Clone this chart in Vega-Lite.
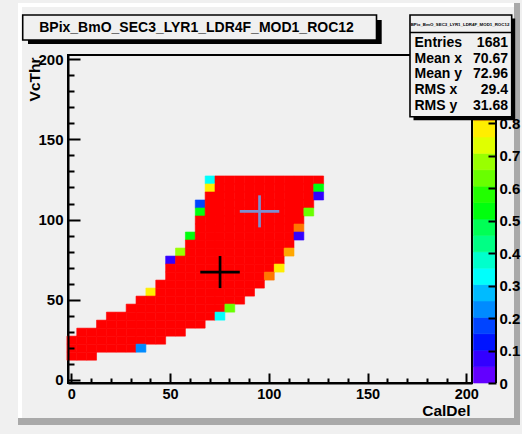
{
  "$schema": "https://vega.github.io/schema/vega-lite/v6.json",
  "width": 404,
  "height": 328,
  "autosize": {"type": "none"},
  "padding": {"left": 68, "top": 55, "right": 50, "bottom": 51},
  "background": "#f0f0f0",
  "config": {
    "font": "Liberation Sans",
    "view": {"stroke": "black", "strokeWidth": 2, "fill": "#f0f0f0"},
    "axis": {
      "labelFont": "Liberation Sans", "labelFontWeight": "bold", "labelFontSize": 15, "labelColor": "black",
      "titleFont": "Liberation Sans", "titleFontWeight": "bold", "titleFontSize": 15.5, "titleColor": "black",
      "tickColor": "black", "domainColor": "black", "grid": false, "labelFlush": false, "labelOverlap": false
    },
    "text": {"font": "Liberation Sans", "fontWeight": "bold", "color": "black"}
  },
  "resolve": {"scale": {"y": "independent"}, "axis": {"x": "independent", "y": "independent"}},
  "layer": [
    {
      "data": {"values": [{}]},
      "mark": {"type": "rect", "color": "#a9a9a9"},
      "encoding": {
        "x": {"datum": 224.17, "type": "quantitative", "axis": null},
        "x2": {"datum": 227.21},
        "y": {"datum": -28.27, "type": "quantitative", "axis": null, "scale": {"domain": [-2.05, 202.7], "nice": false, "zero": false}},
        "y2": {"datum": 235.16}
      }
    },
    {
      "data": {"values": [{}]},
      "mark": {"type": "rect", "color": "#a9a9a9"},
      "encoding": {
        "x": {"datum": -27.02, "type": "quantitative", "axis": null},
        "x2": {"datum": 227.21},
        "y": {"datum": -28.27, "type": "quantitative", "axis": null, "scale": {"domain": [-2.05, 202.7], "nice": false, "zero": false}},
        "y2": {"datum": -23.9}
      }
    },
    {
      "data": {"values": [{}]},
      "mark": {"type": "rect", "color": "#ffffff"},
      "encoding": {
        "x": {"datum": -27.02, "type": "quantitative", "axis": null},
        "x2": {"datum": -25.0},
        "y": {"datum": -23.9, "type": "quantitative", "axis": null, "scale": {"domain": [-2.05, 202.7], "nice": false, "zero": false}},
        "y2": {"datum": 235.16}
      }
    },
    {
      "data": {"values": [{}]},
      "mark": {"type": "rect", "color": "#ffffff"},
      "encoding": {
        "x": {"datum": -27.02, "type": "quantitative", "axis": null},
        "x2": {"datum": 224.17},
        "y": {"datum": 232.66, "type": "quantitative", "axis": null, "scale": {"domain": [-2.05, 202.7], "nice": false, "zero": false}},
        "y2": {"datum": 235.16}
      }
    },
    {
      "data": {"values": [
        {"x":70,"y":125,"z":0.33},{"x":75,"y":125,"z":1},{"x":80,"y":125,"z":1},{"x":85,"y":125,"z":1},{"x":90,"y":125,"z":1},{"x":95,"y":125,"z":1},{"x":100,"y":125,"z":1},{"x":105,"y":125,"z":1},{"x":110,"y":125,"z":1},{"x":115,"y":125,"z":1},{"x":120,"y":125,"z":1},{"x":125,"y":125,"z":1},
        {"x":70,"y":120,"z":0.78},{"x":75,"y":120,"z":1},{"x":80,"y":120,"z":1},{"x":85,"y":120,"z":1},{"x":90,"y":120,"z":1},{"x":95,"y":120,"z":1},{"x":100,"y":120,"z":1},{"x":105,"y":120,"z":1},{"x":110,"y":120,"z":1},{"x":115,"y":120,"z":1},{"x":120,"y":120,"z":1},{"x":125,"y":120,"z":0.53},
        {"x":70,"y":115,"z":1},{"x":75,"y":115,"z":1},{"x":80,"y":115,"z":1},{"x":85,"y":115,"z":1},{"x":90,"y":115,"z":1},{"x":95,"y":115,"z":1},{"x":100,"y":115,"z":1},{"x":105,"y":115,"z":1},{"x":110,"y":115,"z":1},{"x":115,"y":115,"z":1},{"x":120,"y":115,"z":1},{"x":125,"y":115,"z":0.08},
        {"x":65,"y":110,"z":0.18},{"x":70,"y":110,"z":1},{"x":75,"y":110,"z":1},{"x":80,"y":110,"z":1},{"x":85,"y":110,"z":1},{"x":90,"y":110,"z":1},{"x":95,"y":110,"z":1},{"x":100,"y":110,"z":1},{"x":105,"y":110,"z":1},{"x":110,"y":110,"z":1},{"x":115,"y":110,"z":1},{"x":120,"y":110,"z":1},
        {"x":65,"y":105,"z":0.53},{"x":70,"y":105,"z":1},{"x":75,"y":105,"z":1},{"x":80,"y":105,"z":1},{"x":85,"y":105,"z":1},{"x":90,"y":105,"z":1},{"x":95,"y":105,"z":1},{"x":100,"y":105,"z":1},{"x":105,"y":105,"z":1},{"x":110,"y":105,"z":1},{"x":115,"y":105,"z":1},{"x":120,"y":105,"z":0.63},
        {"x":65,"y":100,"z":1},{"x":70,"y":100,"z":1},{"x":75,"y":100,"z":1},{"x":80,"y":100,"z":1},{"x":85,"y":100,"z":1},{"x":90,"y":100,"z":1},{"x":95,"y":100,"z":1},{"x":100,"y":100,"z":1},{"x":105,"y":100,"z":1},{"x":110,"y":100,"z":1},{"x":115,"y":100,"z":1},
        {"x":65,"y":95,"z":1},{"x":70,"y":95,"z":1},{"x":75,"y":95,"z":1},{"x":80,"y":95,"z":1},{"x":85,"y":95,"z":1},{"x":90,"y":95,"z":1},{"x":95,"y":95,"z":1},{"x":100,"y":95,"z":1},{"x":105,"y":95,"z":1},{"x":110,"y":95,"z":1},{"x":115,"y":95,"z":0.88},
        {"x":60,"y":90,"z":0.53},{"x":65,"y":90,"z":1},{"x":70,"y":90,"z":1},{"x":75,"y":90,"z":1},{"x":80,"y":90,"z":1},{"x":85,"y":90,"z":1},{"x":90,"y":90,"z":1},{"x":95,"y":90,"z":1},{"x":100,"y":90,"z":1},{"x":105,"y":90,"z":1},{"x":110,"y":90,"z":1},{"x":115,"y":90,"z":0.08},
        {"x":60,"y":85,"z":1},{"x":65,"y":85,"z":1},{"x":70,"y":85,"z":1},{"x":75,"y":85,"z":1},{"x":80,"y":85,"z":1},{"x":85,"y":85,"z":1},{"x":90,"y":85,"z":1},{"x":95,"y":85,"z":1},{"x":100,"y":85,"z":1},{"x":105,"y":85,"z":1},{"x":110,"y":85,"z":1},
        {"x":55,"y":80,"z":0.68},{"x":60,"y":80,"z":1},{"x":65,"y":80,"z":1},{"x":70,"y":80,"z":1},{"x":75,"y":80,"z":1},{"x":80,"y":80,"z":1},{"x":85,"y":80,"z":1},{"x":90,"y":80,"z":1},{"x":95,"y":80,"z":1},{"x":100,"y":80,"z":1},{"x":105,"y":80,"z":1},{"x":110,"y":80,"z":0.83},
        {"x":50,"y":75,"z":0.08},{"x":55,"y":75,"z":1},{"x":60,"y":75,"z":1},{"x":65,"y":75,"z":1},{"x":70,"y":75,"z":1},{"x":75,"y":75,"z":1},{"x":80,"y":75,"z":1},{"x":85,"y":75,"z":1},{"x":90,"y":75,"z":1},{"x":95,"y":75,"z":1},{"x":100,"y":75,"z":1},{"x":105,"y":75,"z":1},
        {"x":50,"y":70,"z":1},{"x":55,"y":70,"z":1},{"x":60,"y":70,"z":1},{"x":65,"y":70,"z":1},{"x":70,"y":70,"z":1},{"x":75,"y":70,"z":1},{"x":80,"y":70,"z":1},{"x":85,"y":70,"z":1},{"x":90,"y":70,"z":1},{"x":95,"y":70,"z":1},{"x":100,"y":70,"z":1},{"x":105,"y":70,"z":0.78},
        {"x":50,"y":65,"z":1},{"x":55,"y":65,"z":1},{"x":60,"y":65,"z":1},{"x":65,"y":65,"z":1},{"x":70,"y":65,"z":1},{"x":75,"y":65,"z":1},{"x":80,"y":65,"z":1},{"x":85,"y":65,"z":1},{"x":90,"y":65,"z":1},{"x":95,"y":65,"z":1},{"x":100,"y":65,"z":0.88},
        {"x":45,"y":60,"z":1},{"x":50,"y":60,"z":1},{"x":55,"y":60,"z":1},{"x":60,"y":60,"z":1},{"x":65,"y":60,"z":1},{"x":70,"y":60,"z":1},{"x":75,"y":60,"z":1},{"x":80,"y":60,"z":1},{"x":85,"y":60,"z":1},{"x":90,"y":60,"z":1},{"x":95,"y":60,"z":1},
        {"x":40,"y":55,"z":0.78},{"x":45,"y":55,"z":1},{"x":50,"y":55,"z":1},{"x":55,"y":55,"z":1},{"x":60,"y":55,"z":1},{"x":65,"y":55,"z":1},{"x":70,"y":55,"z":1},{"x":75,"y":55,"z":1},{"x":80,"y":55,"z":1},{"x":85,"y":55,"z":1},{"x":90,"y":55,"z":1},
        {"x":35,"y":50,"z":1},{"x":40,"y":50,"z":1},{"x":45,"y":50,"z":1},{"x":50,"y":50,"z":1},{"x":55,"y":50,"z":1},{"x":60,"y":50,"z":1},{"x":65,"y":50,"z":1},{"x":70,"y":50,"z":1},{"x":75,"y":50,"z":1},{"x":80,"y":50,"z":1},{"x":85,"y":50,"z":1},
        {"x":30,"y":45,"z":1},{"x":35,"y":45,"z":1},{"x":40,"y":45,"z":1},{"x":45,"y":45,"z":1},{"x":50,"y":45,"z":1},{"x":55,"y":45,"z":1},{"x":60,"y":45,"z":1},{"x":65,"y":45,"z":1},{"x":70,"y":45,"z":1},{"x":75,"y":45,"z":1},{"x":80,"y":45,"z":0.63},
        {"x":20,"y":40,"z":1},{"x":25,"y":40,"z":1},{"x":30,"y":40,"z":1},{"x":35,"y":40,"z":1},{"x":40,"y":40,"z":1},{"x":45,"y":40,"z":1},{"x":50,"y":40,"z":1},{"x":55,"y":40,"z":1},{"x":60,"y":40,"z":1},{"x":65,"y":40,"z":1},{"x":70,"y":40,"z":1},{"x":75,"y":40,"z":0.33},
        {"x":15,"y":35,"z":1},{"x":20,"y":35,"z":1},{"x":25,"y":35,"z":1},{"x":30,"y":35,"z":1},{"x":35,"y":35,"z":1},{"x":40,"y":35,"z":1},{"x":45,"y":35,"z":1},{"x":50,"y":35,"z":1},{"x":55,"y":35,"z":1},{"x":60,"y":35,"z":1},{"x":65,"y":35,"z":1},
        {"x":5,"y":30,"z":1},{"x":10,"y":30,"z":1},{"x":15,"y":30,"z":1},{"x":20,"y":30,"z":1},{"x":25,"y":30,"z":1},{"x":30,"y":30,"z":1},{"x":35,"y":30,"z":1},{"x":40,"y":30,"z":1},{"x":45,"y":30,"z":1},{"x":50,"y":30,"z":1},{"x":55,"y":30,"z":1},
        {"x":0,"y":25,"z":1},{"x":5,"y":25,"z":1},{"x":10,"y":25,"z":1},{"x":15,"y":25,"z":1},{"x":20,"y":25,"z":1},{"x":25,"y":25,"z":1},{"x":30,"y":25,"z":1},{"x":35,"y":25,"z":1},{"x":40,"y":25,"z":1},{"x":45,"y":25,"z":1},
        {"x":0,"y":20,"z":1},{"x":5,"y":20,"z":1},{"x":10,"y":20,"z":1},{"x":15,"y":20,"z":1},{"x":20,"y":20,"z":1},{"x":25,"y":20,"z":1},{"x":30,"y":20,"z":1},{"x":35,"y":20,"z":0.23},
        {"x":0,"y":15,"z":1},{"x":5,"y":15,"z":1},{"x":10,"y":15,"z":1}
      ]},
      "mark": {"type": "rect", "binSpacing": 0, "strokeWidth": 0.6},
      "encoding": {
        "x": {
          "field": "x", "type": "quantitative",
          "bin": {"step": 5, "extent": [-2.5, 207.5], "nice": false},
          "scale": {"domain": [-1.7, 202.9], "nice": false, "zero": false},
          "axis": {"orient": "bottom", "values": [0, 50, 100, 150, 200], "format": "d", "tickSize": -10, "tickWidth": 2, "domainWidth": 2, "labelPadding": 14, "labelFontSize": 14.5, "title": "CalDel", "titleX": 402, "titleY": 32, "titleAlign": "right", "titleBaseline": "alphabetic", "zindex": 1}
        },
        "y": {
          "field": "y", "type": "quantitative",
          "bin": {"step": 5, "extent": [-2.5, 207.5], "nice": false},
          "scale": {"domain": [-2.05, 202.7], "nice": false, "zero": false},
          "axis": {"orient": "left", "values": [0, 50, 100, 150, 200], "format": "d", "tickSize": -12, "tickWidth": 2, "domainWidth": 2, "labelPadding": 17, "title": "VcThr", "titleX": -34, "titleY": 2, "titleAngle": 270, "titleAlign": "right", "titleBaseline": "middle", "zindex": 1}
        },
        "color": {
          "field": "z", "type": "quantitative", "legend": null,
          "scale": {"type": "quantize", "domain": [0, 1.01], "nice": false, "range": ["#6300ff","#3300ff","#0014ff","#0044ff","#008bff","#00bbff","#00fffc","#00ffcc","#00ff85","#00ff55","#00ff0e","#22ff00","#69ff00","#99ff00","#e0ff00","#ffee00","#ffa700","#ff7700","#ff3000","#ff0000"]}
        },
        "stroke": {
          "field": "z", "type": "quantitative", "legend": null,
          "scale": {"type": "quantize", "domain": [0, 1.01], "nice": false, "range": ["#6300ff","#3300ff","#0014ff","#0044ff","#008bff","#00bbff","#00fffc","#00ffcc","#00ff85","#00ff55","#00ff0e","#22ff00","#69ff00","#99ff00","#e0ff00","#ffee00","#ffa700","#ff7700","#ff3000","#ff0000"]}
        }
      }
    },
    {
      "data": {"values": [
        {"x1": 65.3, "x2": 85.3, "y1": 67.2, "y2": 67.2},
        {"x1": 75.3, "x2": 75.3, "y1": 57.2, "y2": 77.2}
      ]},
      "mark": {"type": "rule", "color": "black", "strokeWidth": 2.7},
      "encoding": {
        "x": {"field": "x1", "type": "quantitative", "axis": null},
        "x2": {"field": "x2"},
        "y": {"field": "y1", "type": "quantitative", "axis": null, "scale": {"domain": [-2.05, 202.7], "nice": false, "zero": false}},
        "y2": {"field": "y2"}
      }
    },
    {
      "data": {"values": [
        {"x1": 85.3, "x2": 105.3, "y1": 105.1, "y2": 105.1},
        {"x1": 95.3, "x2": 95.3, "y1": 95.1, "y2": 115.1}
      ]},
      "mark": {"type": "rule", "color": "#7d8fcf", "strokeWidth": 2.7},
      "encoding": {
        "x": {"field": "x1", "type": "quantitative", "axis": null},
        "x2": {"field": "x2"},
        "y": {"field": "y1", "type": "quantitative", "axis": null, "scale": {"domain": [-2.05, 202.7], "nice": false, "zero": false}},
        "y2": {"field": "y2"}
      }
    },
    {
      "data": {"values": [
        {"lo":0,"hi":0.0505,"z":0.025},{"lo":0.0505,"hi":0.101,"z":0.076},{"lo":0.101,"hi":0.1515,"z":0.126},{"lo":0.1515,"hi":0.202,"z":0.177},
        {"lo":0.202,"hi":0.2525,"z":0.227},{"lo":0.2525,"hi":0.303,"z":0.278},{"lo":0.303,"hi":0.3535,"z":0.328},{"lo":0.3535,"hi":0.404,"z":0.379},
        {"lo":0.404,"hi":0.4545,"z":0.429},{"lo":0.4545,"hi":0.505,"z":0.48},{"lo":0.505,"hi":0.5555,"z":0.53},{"lo":0.5555,"hi":0.606,"z":0.581},
        {"lo":0.606,"hi":0.6565,"z":0.631},{"lo":0.6565,"hi":0.707,"z":0.682},{"lo":0.707,"hi":0.7575,"z":0.732},{"lo":0.7575,"hi":0.808,"z":0.783},
        {"lo":0.808,"hi":0.8585,"z":0.833},{"lo":0.8585,"hi":0.909,"z":0.884},{"lo":0.909,"hi":0.9595,"z":0.934},{"lo":0.9595,"hi":1.01,"z":0.985}
      ]},
      "mark": {"type": "rect", "strokeWidth": 0.6},
      "encoding": {
        "x": {"datum": 203.66, "type": "quantitative", "axis": null},
        "x2": {"datum": 214.8},
        "y": {
          "field": "lo", "type": "quantitative",
          "scale": {"domain": [0, 1.01], "nice": false, "zero": false},
          "axis": {"orient": "right", "offset": 24, "values": [0, 0.1, 0.2, 0.3, 0.4, 0.5, 0.6, 0.7, 0.8], "format": "~g", "tickSize": -8, "tickWidth": 2, "labelPadding": 11, "domain": false, "title": null, "zindex": 1}
        },
        "y2": {"field": "hi"},
        "color": {
          "field": "z", "type": "quantitative", "legend": null,
          "scale": {"type": "quantize", "domain": [0, 1.01], "nice": false, "range": ["#6300ff","#3300ff","#0014ff","#0044ff","#008bff","#00bbff","#00fffc","#00ffcc","#00ff85","#00ff55","#00ff0e","#22ff00","#69ff00","#99ff00","#e0ff00","#ffee00","#ffa700","#ff7700","#ff3000","#ff0000"]}
        },
        "stroke": {
          "field": "z", "type": "quantitative", "legend": null,
          "scale": {"type": "quantize", "domain": [0, 1.01], "nice": false, "range": ["#6300ff","#3300ff","#0014ff","#0044ff","#008bff","#00bbff","#00fffc","#00ffcc","#00ff85","#00ff55","#00ff0e","#22ff00","#69ff00","#99ff00","#e0ff00","#ffee00","#ffa700","#ff7700","#ff3000","#ff0000"]}
        }
      }
    },
    {
      "data": {"values": [{}]},
      "mark": {"type": "rule", "color": "black", "strokeWidth": 2},
      "encoding": {
        "x": {"datum": 215.05, "type": "quantitative", "axis": null},
        "y": {"datum": 0, "type": "quantitative", "axis": null, "scale": {"domain": [0, 1.01], "nice": false, "zero": false}},
        "y2": {"datum": 1.01}
      }
    },
    {
      "data": {"values": [{}]},
      "mark": {"type": "rect", "color": "black"},
      "encoding": {
        "x": {"datum": -21.96, "type": "quantitative",
          "axis": {"orient": "bottom", "values": [10,20,30,40,60,70,80,90,110,120,130,140,160,170,180,190], "tickSize": -5, "tickWidth": 2, "labels": false, "domain": false, "title": null, "zindex": 1}},
        "x2": {"datum": 157.17},
        "y": {"datum": 209.57, "type": "quantitative",
          "scale": {"domain": [-2.05, 202.7], "nice": false, "zero": false},
          "axis": {"orient": "left", "values": [10,20,30,40,60,70,80,90,110,120,130,140,160,170,180,190], "tickSize": -6, "tickWidth": 2, "labels": false, "domain": false, "title": null, "zindex": 1}},
        "y2": {"datum": 224.55}
      }
    },
    {
      "data": {"values": [{}]},
      "mark": {"type": "rect", "fill": "#f0f0f0", "stroke": "black", "strokeWidth": 1.6},
      "encoding": {
        "x": {"datum": -24.64, "type": "quantitative", "axis": null},
        "x2": {"datum": 154.54},
        "y": {"datum": 212.06, "type": "quantitative", "axis": null, "scale": {"domain": [-2.05, 202.7], "nice": false, "zero": false}},
        "y2": {"datum": 227.67}
      }
    },
    {
      "data": {"values": [{"t": "BPix_BmO_SEC3_LYR1_LDR4F_MOD1_ROC12"}]},
      "mark": {"type": "text", "fontSize": 14, "fontWeight": "bold", "align": "center", "baseline": "alphabetic"},
      "encoding": {
        "x": {"datum": 63.38, "type": "quantitative", "axis": null},
        "y": {"datum": 217.06, "type": "quantitative", "axis": null, "scale": {"domain": [-2.05, 202.7], "nice": false, "zero": false}},
        "text": {"field": "t"}
      }
    },
    {
      "data": {"values": [{}]},
      "mark": {"type": "rect", "color": "black"},
      "encoding": {
        "x": {"datum": 173.27, "type": "quantitative", "axis": null},
        "x2": {"datum": 224.77},
        "y": {"datum": 162.0, "type": "quantitative", "axis": null, "scale": {"domain": [-2.05, 202.7], "nice": false, "zero": false}},
        "y2": {"datum": 225.49}
      }
    },
    {
      "data": {"values": [{}]},
      "mark": {"type": "rect", "fill": "#f0f0f0", "stroke": "black", "strokeWidth": 1.6},
      "encoding": {
        "x": {"datum": 171.5, "type": "quantitative", "axis": null},
        "x2": {"datum": 223.0},
        "y": {"datum": 164.19, "type": "quantitative", "axis": null, "scale": {"domain": [-2.05, 202.7], "nice": false, "zero": false}},
        "y2": {"datum": 227.67}
      }
    },
    {
      "data": {"values": [{}]},
      "mark": {"type": "rule", "color": "black", "strokeWidth": 1.6},
      "encoding": {
        "x": {"datum": 171.5, "type": "quantitative", "axis": null},
        "x2": {"datum": 223.0},
        "y": {"datum": 216.75, "type": "quantitative", "axis": null, "scale": {"domain": [-2.05, 202.7], "nice": false, "zero": false}}
      }
    },
    {
      "data": {"values": [{"t": "BPix_BmO_SEC3_LYR1_LDR4F_MOD1_ROC12"}]},
      "mark": {"type": "text", "fontSize": 4.4, "fontWeight": "bold", "align": "center", "baseline": "alphabetic"},
      "encoding": {
        "x": {"datum": 196.82, "type": "quantitative", "axis": null},
        "y": {"datum": 220.8, "type": "quantitative", "axis": null, "scale": {"domain": [-2.05, 202.7], "nice": false, "zero": false}},
        "text": {"field": "t"}
      }
    },
    {
      "data": {"values": [{}]},
      "mark": {"type": "text", "text": ["Entries", "Mean x", "Mean y", "RMS x", "RMS y"], "fontSize": 14, "fontWeight": "bold", "align": "left", "baseline": "alphabetic", "lineHeight": 15.9},
      "encoding": {
        "x": {"datum": 173.78, "type": "quantitative", "axis": null},
        "y": {"datum": 207.88, "type": "quantitative", "axis": null, "scale": {"domain": [-2.05, 202.7], "nice": false, "zero": false}}
      }
    },
    {
      "data": {"values": [{}]},
      "mark": {"type": "text", "text": ["1681", "70.67", "72.96", "29.4", "31.68"], "fontSize": 14, "fontWeight": "bold", "align": "right", "baseline": "alphabetic", "lineHeight": 15.9},
      "encoding": {
        "x": {"datum": 221.13, "type": "quantitative", "axis": null},
        "y": {"datum": 207.88, "type": "quantitative", "axis": null, "scale": {"domain": [-2.05, 202.7], "nice": false, "zero": false}}
      }
    }
  ]
}
